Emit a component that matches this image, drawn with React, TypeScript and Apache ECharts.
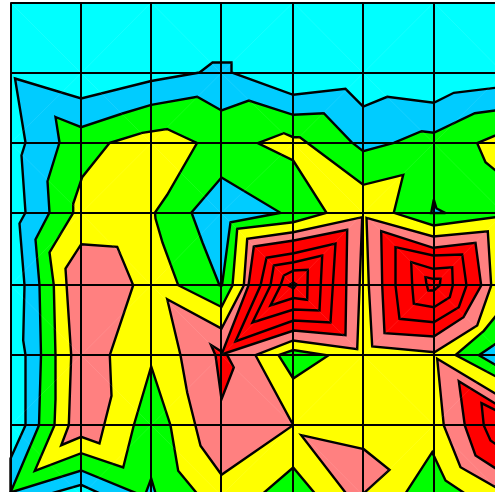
import React, { useEffect, useRef } from "react";
import * as echarts from "echarts";

type Pt = [number, number];

const xTicks = [0, 70.7, 140.7, 210.7, 282.7, 352.7, 423.3, 493];
const yTicks = [0, 70.7, 140.7, 210.7, 282.7, 352.7, 422.7, 493];

const blueOuter: Pt[] = [[4.5,76],[70.7,96],[140.7,78.5],[189,70],[202,60],[221,60],[221,70],[282.7,92.3],[335,86.3],[352.7,104],[376.7,94.3],[423.3,100.3],[443.3,90.3],[485,85.3],[493,84.5],[493,494],[0,494],[0,456],[15,422.7],[15,352.7],[12.7,338],[14,282.7],[9,221],[15,210],[11,153],[15,140]];
const greenOuter: Pt[] = [[45,114.5],[70.7,124.7],[112,111],[140.7,102.3],[186.7,94.3],[211,108],[238.3,98],[282.7,112.3],[313.3,110.7],[341,139.7],[352.7,148.7],[383.3,140.3],[411,128.7],[423.3,130.3],[464.3,110.7],[485,108],[493,107],[493,494],[146,494],[140.7,476],[134,494],[70.7,468],[0,490],[28.5,422.7],[30.5,352.7],[29,282.7],[25,237],[39,210],[37,179],[49,140]];
const yellowMain: Pt[] = [[99,140.5],[131.7,130.3],[156.5,126.5],[186.5,140.5],[156.7,192.3],[144.5,210],[145,216],[152,240],[167.7,282.7],[211,304.5],[222,283],[226.7,226.3],[282.7,219.7],[316,210.3],[282.7,158],[247.3,140.7],[273.3,130.7],[282.7,134.7],[289.3,134.7],[352.7,182.3],[392.7,172.3],[383.3,210.3],[423,223],[485,214.7],[493,213.5],[493,304],[473.3,328.3],[445,352.5],[493,378],[493,494],[189,494],[167.7,468.3],[160,422.7],[140.7,364],[123.3,422.7],[112.7,465],[70.7,450.7],[24.3,468.3],[44,422.7],[45,396.7],[45,352.7],[43.3,282.7],[39,250],[62.7,210.3],[62.7,201.3],[71.7,174.7]];
const yellowRight: Pt[] = [[493,129.5],[466.7,140.7],[475,159.7],[493,174.6]];
const blueHole: Pt[] = [[211,175],[270,210.3],[220,219.7],[211.5,282.7],[209,282.7],[192,240],[181,210]];
const blueSpeck: Pt[] = [[423.3,197],[426,206],[435,210.5],[420.7,210.5]];
const blueRight: Pt[] = [[468.3,352.7],[493,336],[493,367]];
const cyanBottom: Pt[] = [[30,494],[70.7,482.3],[96,494]];
const greenMid: Pt[] = [[268,352.7],[282.7,347.5],[317.7,353],[282.7,376]];
const greenBottomA: Pt[] = [[249,494],[282.7,465],[307,494]];
const greenBottomB: Pt[] = [[393,494],[421.7,449.7],[435,478],[459,494]];
const pinkLeft: Pt[] = [[70.7,241.7],[106.7,244.3],[122.7,282.7],[99.3,352.7],[101,393.3],[89,441],[70.7,434.3],[50.7,442.7],[58.3,422.7],[60.7,352.7],[55,266]];
const pinkCentre: Pt[] = [[156.7,296.7],[211,326],[233.3,283],[236.7,236.3],[282.7,229.7],[351.7,214.7],[346.7,346.7],[282.7,338],[245,352.7],[282.7,422.7],[211,472.3],[190,443.3],[176.7,390],[170,352.7]];
const pinkRight: Pt[] = [[356,215.3],[422.7,234],[477.3,228.7],[480.7,283],[466.7,323],[424,349.7],[361.7,344],[358.3,283]];
const pinkLowerRight: Pt[] = [[426.7,356.3],[493,396],[493,489.3],[450,464.7],[433.3,423]];
const pinkLowerCentre: Pt[] = [[290.7,432.7],[353.3,446.7],[379,467.3],[352,492],[338,494]];
const redArrow: Pt[] = [[200.5,342.5],[211,349],[216.7,352.7],[223.3,365],[211,396.7],[205,352.7]];
const redLeft1: Pt[] = [[243.3,244],[283.3,238],[336.7,227.3],[335,332.7],[283.3,328],[211,352],[238,283]];
const redLeft2: Pt[] = [[256,255.3],[283.3,250.7],[325,241],[320,320],[283,318],[225,339],[250,283]];
const redLeft3: Pt[] = [[263.3,263],[283.3,259.7],[311.7,253],[309,308],[283,307],[242,320],[260,283]];
const redLeft4: Pt[] = [[273.3,273],[283.3,268],[297.3,267.3],[296.7,297.3],[283,295.5],[260,303],[270,283]];
const redLeft5: Pt[] = [[278,283],[283,280],[286,282],[283,286]];
const redRight1: Pt[] = [[370.7,228.7],[422.7,245.3],[465,240.3],[470.7,283],[453,314.7],[423.3,334],[374,330.7],[371.7,283]];
const redRight2: Pt[] = [[385,244.7],[422.7,253],[451.7,252],[456,283],[448.3,304.7],[423.3,319.7],[389,316.3],[385,283]];
const redRight3: Pt[] = [[400.7,259.7],[422.7,266.3],[441.7,264.7],[442.3,283],[439.3,294.7],[423.3,304.7],[403.3,301.3],[401.7,283]];
const redRight4: Pt[] = [[415,274.7],[422.7,276.3],[430,276.3],[429.3,283],[423.3,288],[417.7,288],[415.7,280]];
const redLower1: Pt[] = [[448.3,378.7],[493,406],[493,471],[465,453],[454.3,423]];
const redLower2: Pt[] = [[471,400.7],[493,411.5],[493,447],[480,438],[473.3,423]];

const CYAN = "#00ffff", BLUE = "#00ccff", GREEN = "#00ff00", YELLOW = "#ffff00", PINK = "#ff8080", RED = "#ff0000";

const paintOrder: [Pt[], string][] = [
  [blueOuter, BLUE], [cyanBottom, CYAN], [greenOuter, GREEN], [blueHole, BLUE], [blueSpeck, BLUE], [blueRight, BLUE],
  [yellowMain, YELLOW], [yellowRight, YELLOW], [greenMid, GREEN], [greenBottomA, GREEN], [greenBottomB, GREEN],
  [pinkLeft, PINK], [pinkCentre, PINK], [pinkRight, PINK], [pinkLowerRight, PINK], [pinkLowerCentre, PINK],
  [redArrow, RED], [redLeft1, RED], [redLeft2, RED], [redLeft3, RED], [redLeft4, RED], [redLeft5, RED],
  [redRight1, RED], [redRight2, RED], [redRight3, RED], [redRight4, RED], [redLower1, RED], [redLower2, RED],
];

const cells: [number, number][] = [];
for (let c = 0; c < xTicks.length - 1; c++) for (let r = 0; r < yTicks.length - 1; r++) cells.push([c, r]);

export default function App() {
  const ref = useRef<HTMLDivElement>(null);
  useEffect(() => {
    const chart = echarts.init(ref.current!, undefined, { renderer: "svg" });
    chart.setOption({
      animation: false,
      backgroundColor: "#ffffff",
      grid: { left: 10.5, top: 2.5, width: 493, height: 493, show: true, backgroundColor: CYAN, borderWidth: 0, outerBoundsMode: "none" },
      xAxis: {
        type: "value", min: 0, max: 493, z: 5,
        axisLine: { show: false }, axisLabel: { show: false },
        axisTick: { show: false, customValues: xTicks },
        splitLine: { show: true, lineStyle: { color: "#000", width: 2 } },
      },
      yAxis: {
        type: "value", min: 0, max: 493, inverse: true, z: 5,
        axisLine: { show: false }, axisLabel: { show: false },
        axisTick: { show: false, customValues: yTicks },
        splitLine: { show: true, lineStyle: { color: "#000", width: 2 } },
      },
      series: [
        {
          type: "custom", coordinateSystem: "cartesian2d", silent: true, z: 2,
          data: paintOrder.map((_, i) => [i, i]),
          renderItem: (p: any, api: any) => {
            const [pts, color] = paintOrder[p.dataIndex];
            return {
              type: "polygon",
              shape: { points: pts.map((q) => api.coord(q)) },
              style: { fill: color, stroke: "#000", lineWidth: 2.4, lineJoin: "miter" },
            };
          },
        },
        {
          type: "custom", coordinateSystem: "cartesian2d", silent: true, z: 3,
          data: cells,
          renderItem: (_p: any, api: any) => {
            const c = api.value(0), r = api.value(1);
            const even = (c + r) % 2 === 0;
            const a = api.coord([xTicks[c], even ? yTicks[r] : yTicks[r + 1]]);
            const b = api.coord([xTicks[c + 1], even ? yTicks[r + 1] : yTicks[r]]);
            return {
              type: "line",
              shape: { x1: a[0], y1: a[1], x2: b[0], y2: b[1] },
              style: { stroke: "#ffffff", lineWidth: 0.5, opacity: 0.18 },
            };
          },
        },
      ],
    });
    return () => chart.dispose();
  }, []);
  return (
    <div style={{ position: "fixed", left: 0, top: 0, width: 495, height: 492, overflow: "hidden" }}>
      <div ref={ref} style={{ width: 520, height: 520 }} />
    </div>
  );
}
